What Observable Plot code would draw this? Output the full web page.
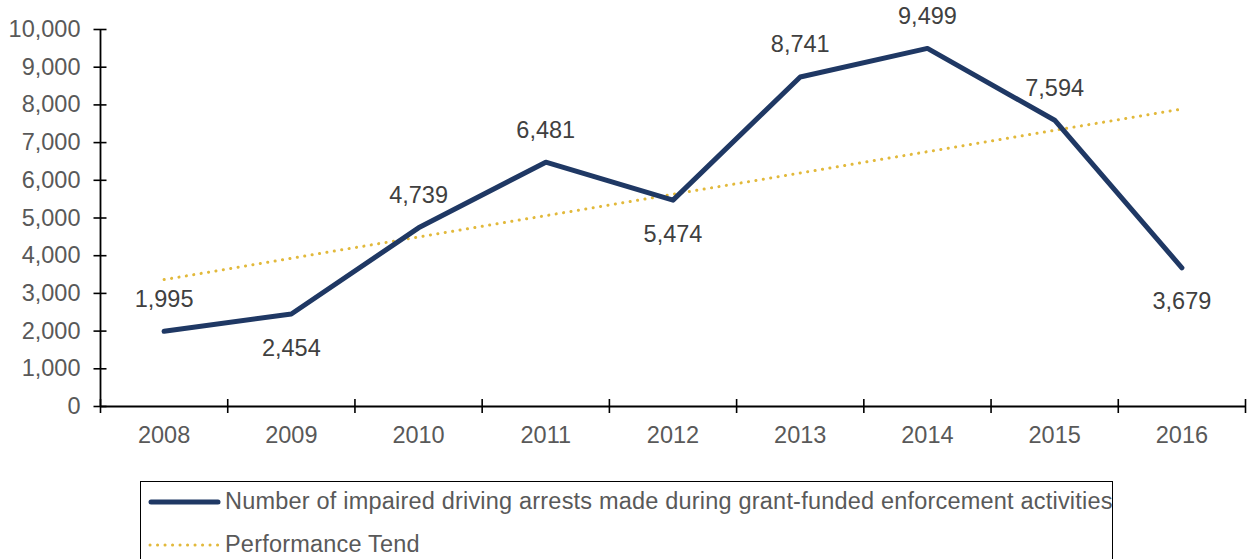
<!DOCTYPE html>
<html>
<head>
<meta charset="utf-8">
<script src="https://cdn.jsdelivr.net/npm/d3@7"></script>
<script src="https://cdn.jsdelivr.net/npm/@observablehq/plot@0.6"></script>
<style>
  html, body { margin: 0; padding: 0; background: #fff; overflow: hidden; }
  #wrap { position: relative; width: 1259px; height: 559px; }
  #legend { position: absolute; left: 140px; top: 481px; width: 973px; height: 100px;
    border: 1.5px solid #000; box-sizing: border-box; font-family: "Liberation Sans", Arial, sans-serif;
    font-size: 23.5px; color: #595959; }
  .item { position: absolute; left: 6px; display: flex; align-items: center; white-space: nowrap; }
  .item svg { margin-right: 4px; }
  .item span { letter-spacing: 0.2px; }
</style>
</head>
<body>
<div id="wrap">
  <div id="chart"></div>
  <div id="legend"></div>
</div>
<script>
const years = [2008, 2009, 2010, 2011, 2012, 2013, 2014, 2015, 2016];
const arrests = [1995, 2454, 4739, 6481, 5474, 8741, 9499, 7594, 3679];
const labelSide = ["above", "below", "above", "above", "below", "above", "above", "above", "below"];
const trendYears = [2008, 2016];
const trendValues = [3366, 7891];
const yTicks = [0, 1000, 2000, 3000, 4000, 5000, 6000, 7000, 8000, 9000, 10000];
const bandEdges = [2007.5, 2008.5, 2009.5, 2010.5, 2011.5, 2012.5, 2013.5, 2014.5, 2015.5, 2016.5];
const seriesNames = ["Number of impaired driving arrests made during grant-funded enforcement activities", "Performance Tend"];

const lineColor = "#1f3864";
const trendColor = "#e2b93b";

const data = years.map((year, i) => ({year, value: arrests[i], side: labelSide[i]}));
const trend = trendYears.map((year, i) => ({year, value: trendValues[i]}));
const fmt = d3.format(",");

const chart = Plot.plot({
  width: 1259,
  height: 476,
  marginLeft: 100,
  marginRight: 14,
  marginTop: 29,
  marginBottom: 70,
  style: {fontFamily: "'Liberation Sans', Arial, sans-serif", fontSize: "23.5px", color: "#595959", background: "#fff"},
  x: {type: "linear", domain: [bandEdges[0], bandEdges[bandEdges.length - 1]]},
  y: {domain: [0, 10000]},
  marks: [
    Plot.axisY({ticks: yTicks, tickSize: 0, tickPadding: 20, tickFormat: fmt, fill: "#595959", fontSize: 23.5, label: null}),
    Plot.axisY({ticks: yTicks, tickSize: 13, dx: 6.5, tickFormat: () => "", stroke: "#000", strokeWidth: 1.6, label: null}),
    Plot.axisX({ticks: bandEdges, tickSize: 14, dy: -7, tickFormat: () => "", stroke: "#000", strokeWidth: 1.6, label: null}),
    Plot.axisX({ticks: years, tickSize: 0, tickPadding: 20, tickFormat: d => String(d), fill: "#595959", fontSize: 23.5, label: null}),
    Plot.ruleX([bandEdges[0]], {y1: 0, y2: 10000, stroke: "#000", strokeWidth: 1.8}),
    Plot.ruleY([0], {stroke: "#000", strokeWidth: 1.8}),
    Plot.lineY(trend, {x: "year", y: "value", stroke: trendColor, strokeWidth: 3, strokeDasharray: "0.1 7.4", strokeLinecap: "round"}),
    Plot.lineY(data, {x: "year", y: "value", stroke: lineColor, strokeWidth: 5, strokeLinecap: "round", strokeLinejoin: "round"}),
    Plot.text(data.filter(d => d.side === "above"), {x: "year", y: "value", text: d => fmt(d.value), dy: -32, fill: "#404040", fontSize: 23.5}),
    Plot.text(data.filter(d => d.side === "below"), {x: "year", y: "value", text: d => fmt(d.value), dy: 34, fill: "#404040", fontSize: 23.5})
  ]
});
document.getElementById("chart").appendChild(chart);

const legend = document.getElementById("legend");
const items = [
  {name: seriesNames[0], top: 6, svg: `<svg width="74" height="12"><line x1="4" y1="6" x2="71" y2="6" stroke="${lineColor}" stroke-width="5" stroke-linecap="round"/></svg>`},
  {name: seriesNames[1], top: 49, svg: `<svg width="74" height="12"><line x1="3" y1="6" x2="72" y2="6" stroke="${trendColor}" stroke-width="3" stroke-dasharray="0.1 7.4" stroke-linecap="round"/></svg>`}
];
for (const it of items) {
  const div = document.createElement("div");
  div.className = "item";
  div.style.top = it.top + "px";
  div.innerHTML = it.svg + `<span>${it.name}</span>`;
  legend.appendChild(div);
}
</script>
</body>
</html>
